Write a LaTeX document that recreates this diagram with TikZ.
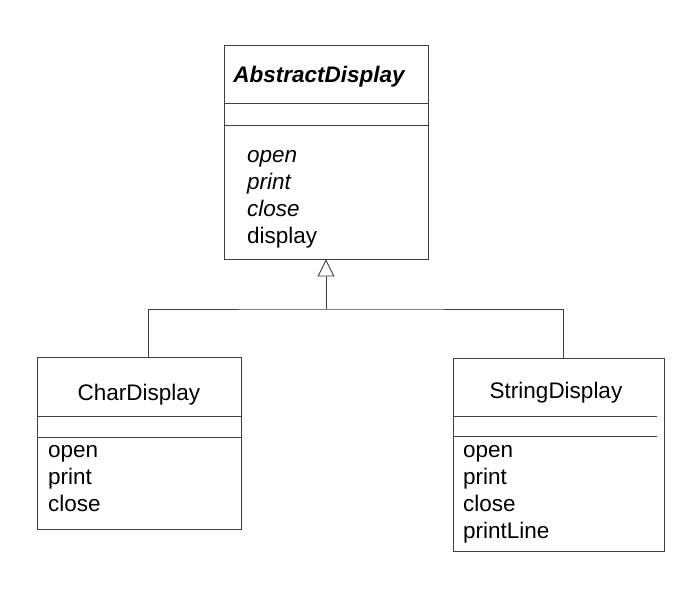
\documentclass[tikz,border=0pt]{standalone}
\usepackage{fontspec}
\setmainfont{Liberation Sans}
\usetikzlibrary{arrows.meta}
\begin{document}
\begin{tikzpicture}[x=1pt,y=-1pt,
  ln/.style={draw=black!75,line width=0.9pt},
  cls/.style={ln,fill=white,inner sep=0pt},
  txt/.style={inner sep=0pt,font=\fontsize{22.5}{27}\selectfont},
  mth/.style={txt,anchor=base west},
  ttl/.style={txt,anchor=base}]
\useasboundingbox[fill=white] (0,0) rectangle (698,606);
% class boxes
\node[cls,minimum width=204pt,minimum height=214pt] (abs) at (326,152) {};
\node[cls,minimum width=204pt,minimum height=172pt] (chr) at (139,443) {};
\node[cls,minimum width=211pt,minimum height=193pt] (str) at (558.5,454.5) {};
% compartment dividers
\draw[ln] (abs.west |- 0,103) -- (abs.east |- 0,103);
\draw[ln] (abs.west |- 0,125) -- (abs.east |- 0,125);
\draw[ln] (chr.west |- 0,416) -- (chr.east |- 0,416);
\draw[ln] (chr.west |- 0,437) -- (chr.east |- 0,437);
\draw[ln] (str.west |- 0,416) -- (657,416);
\draw[ln] (str.west |- 0,436) -- (657,436);
% texts
\node[ttl] (absT) at (319,82) {\bfseries\itshape AbstractDisplay};
\node[mth] (a1) at (247,162) {\itshape open};
\node[mth] (a2) at (247,189) {\itshape print};
\node[mth] (a3) at (247,216) {\itshape close};
\node[mth] (a4) at (247,243) {display};
\node[ttl] (chrT) at (139,400) {CharDisplay};
\node[mth] (c1) at (48,457) {open};
\node[mth] (c2) at (48,484) {print};
\node[mth] (c3) at (48,511) {close};
\node[ttl] (strT) at (556,398) {StringDisplay};
\node[mth] (s1) at (463,457) {open};
\node[mth] (s2) at (463,484) {print};
\node[mth] (s3) at (463,511) {close};
\node[mth] (s4) at (463,538) {printLine};
% generalization
\coordinate (j) at (326,309);
\coordinate (cT) at ([xshift=9pt]chr.north);
\coordinate (sT) at ([xshift=4.5pt]str.north);
\draw[ln] (cT) |- (j) -| (sT);
\draw[ln,-{Triangle[open,length=17pt,width=17pt,line width=0.9pt]}] (j) -- (abs.south);
\end{tikzpicture}
\end{document}
